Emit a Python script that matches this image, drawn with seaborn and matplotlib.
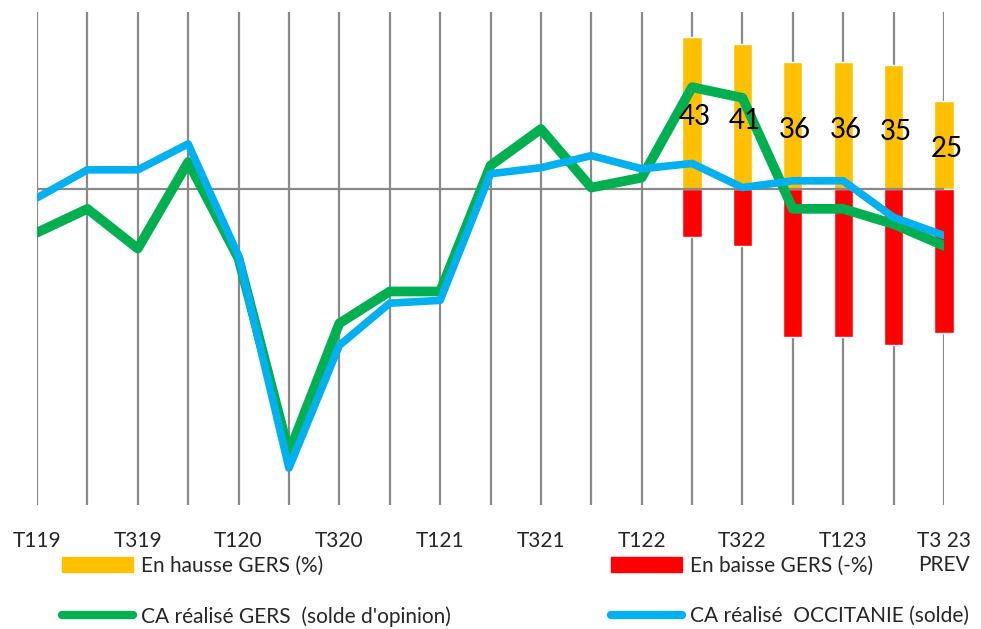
import matplotlib
matplotlib.use("Agg")
import matplotlib.pyplot as plt
import matplotlib.patches as mpatches
import matplotlib.lines as mlines
import numpy as np
import pandas as pd
import seaborn as sns

# --------------------------------------
# Data
# --------------------------------------
periodes = ["T119", "T219", "T319", "T419", "T120", "T220", "T320", "T420",
            "T121", "T221", "T321", "T421", "T122", "T222", "T322", "T422",
            "T123", "T223", "T3 23\nPREV"]
ca_gers = [-12.2, -5.5, -16.7, 7.7, -19.5, -74.3, -37.8, -28.8, -28.8, 6.7,
           17.0, 0.5, 3.3, 28.8, 25.8, -5.5, -5.5, -9.8, -15.9]
ca_occitanie = [-2.4, 5.5, 5.5, 12.8, -18.8, -78.6, -44.0, -32.1, -31.3, 4.4,
                6.1, 9.5, 5.8, 7.3, 0.5, 2.4, 2.4, -7.9, -13.0]
hausse = [np.nan] * 13 + [43, 41, 36, 36, 35, 25]
baisse = [np.nan] * 13 + [-13.4, -15.9, -41.6, -41.6, -44, -40.4]

JAUNE = "#FFC000"
ROUGE = "#FF0000"
VERT = "#00B050"
BLEU = "#00B0F0"
GRIS = "#898989"

df = pd.DataFrame({"pos": np.arange(len(periodes)), "hausse": hausse,
                   "baisse": baisse, "gers": ca_gers, "occ": ca_occitanie})

sns.set_style("white")
plt.rcParams["font.family"] = ["Lato", "DejaVu Sans"]

fig = plt.figure(figsize=(9.81, 6.29), dpi=100)
ax = fig.add_axes([37 / 981, 1 - 505 / 629, (944 - 37) / 981, (505 - 12) / 629])

sns.barplot(data=df, x="pos", y="hausse", color=JAUNE, width=0.38,
            native_scale=True, saturation=1, ax=ax)
sns.barplot(data=df, x="pos", y="baisse", color=ROUGE, width=0.38,
            native_scale=True, saturation=1, ax=ax)
for p in ax.patches:
    p.set_clip_on(False)

ax.axhline(0, color=GRIS, lw=1.6, zorder=1.5)

sns.lineplot(data=df, x="pos", y="gers", color=VERT, lw=7, sort=False,
             solid_joinstyle="round", ax=ax, zorder=3)
sns.lineplot(data=df, x="pos", y="occ", color=BLEU, lw=5.5, sort=False,
             solid_joinstyle="round", ax=ax, zorder=4)

# data labels centred in the yellow bars
for x, v in zip(df["pos"], df["hausse"]):
    if not np.isnan(v):
        ax.text(x + 0.05, v / 2 - 1.2, f"{int(v)}", ha="center", va="center",
                fontsize=20, color="black", zorder=5, clip_on=False)

ax.set_xlim(0, len(periodes) - 1)
ax.set_ylim(-89, 50)
ax.set_xticks(df["pos"])
ax.set_xticklabels([lab if i % 2 == 0 else "" for i, lab in enumerate(periodes)],
                   fontsize=15, linespacing=1.25)
ax.set_yticks([])
ax.tick_params(axis="x", length=0, pad=19)
ax.grid(axis="x", color=GRIS, lw=1.6)
ax.set_axisbelow(True)
ax.set_xlabel("")
ax.set_ylabel("")
for s in ax.spines.values():
    s.set_visible(False)

handles = [
    mpatches.Patch(color=JAUNE, label="En hausse GERS (%)"),
    mlines.Line2D([], [], color=VERT, lw=6, solid_capstyle="round",
                  label="CA réalisé GERS  (solde d'opinion)"),
    mpatches.Patch(color=ROUGE, label="En baisse GERS (-%)"),
    mlines.Line2D([], [], color=BLEU, lw=6, solid_capstyle="round",
                  label="CA réalisé  OCCITANIE (solde)"),
]
fig.legend(handles=handles, ncol=2, loc="upper left",
           bbox_to_anchor=(43 / 981, 1 - 537 / 629), frameon=False,
           fontsize=15, handlelength=3.4, handleheight=0.7, handletextpad=0.4,
           labelspacing=1.45, columnspacing=7.7)

fig.savefig("out.png", dpi=100)
